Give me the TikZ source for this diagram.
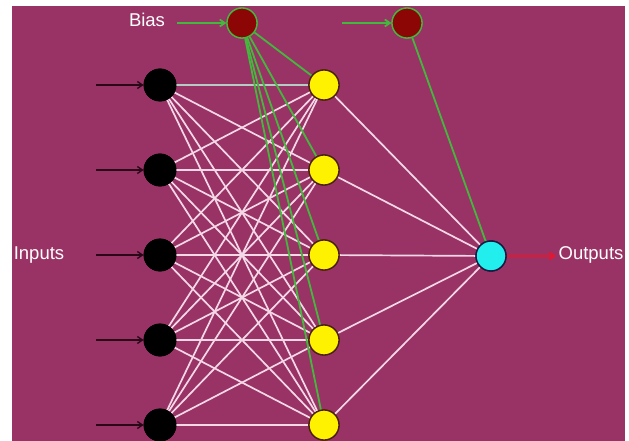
\documentclass[tikz,border=0pt]{standalone}
\usepackage{fontspec}
\setmainfont{Liberation Sans}
\usetikzlibrary{arrows.meta}
\definecolor{bg}{HTML}{993366}
\definecolor{wline}{HTML}{F4D8E8}
\definecolor{gline}{HTML}{44B83C}
\definecolor{grayline}{HTML}{B4CCC4}
\definecolor{biasfill}{HTML}{8C0606}
\definecolor{hidborder}{HTML}{4A2010}
\definecolor{outfill}{HTML}{22EEEE}
\definecolor{outborder}{HTML}{1A1A40}
\definecolor{inarrow}{HTML}{2A0818}
\definecolor{outarrow}{HTML}{E01830}
\tikzset{
  neuron/.style={circle, minimum size=30pt, inner sep=0pt},
  innode/.style={neuron, minimum size=32pt, fill=black, draw=black, line width=0.8pt},
  hidnode/.style={neuron, fill=yellow, draw=hidborder, line width=1.3pt},
  biasnode/.style={neuron, fill=biasfill, draw=gline, line width=1.3pt},
  outnode/.style={neuron, fill=outfill, draw=outborder, line width=1.4pt},
  wconn/.style={draw=wline, line width=1.7pt},
  gconn/.style={draw=gline, line width=1.8pt},
  tip/.style={-{Straight Barb[length=5pt,width=7pt]}},
  lbl/.style={text=white, font=\fontsize{18.5}{20}\selectfont, inner sep=0pt}
}
\begin{document}
\begin{tikzpicture}[x=1pt,y=-1pt]
\useasboundingbox (0,0) rectangle (629,441);
\fill[white] (0,0) rectangle (629,441);
\fill[bg] (12,6) rectangle (625,441);

% nodes
\foreach \k/\y in {1/85,2/170,3/255,4/340,5/425}{
  \node[innode] (i\k) at (160,\y) {};
  \node[hidnode] (h\k) at (324,\y) {};
}
\node[biasnode] (b1) at (242,23) {};
\node[biasnode] (b2) at (407,23) {};
\node[outnode] (o) at (491,256) {};

% input -> hidden
\foreach \a in {1,...,5}{
  \foreach \b in {1,...,5}{
    \ifnum\a=\b\relax\else
      \draw[wconn] (i\a) -- (h\b);
    \fi
  }
}
\foreach \a in {2,...,5}{\draw[wconn] (i\a) -- (h\a);}
\draw[draw=grayline, line width=1.7pt] (i1) -- (h1);
% hidden -> output
\foreach \b in {1,...,5}{\draw[wconn] (h\b) -- (o);}
% bias lines
\foreach \b in {1,...,5}{\draw[gconn] (b1) -- (h\b);}
\draw[gconn] (b2) -- (o);

% redraw nodes on top
\foreach \k/\y in {1/85,2/170,3/255,4/340,5/425}{
  \node[innode] at (i\k) {};
  \node[hidnode] at (h\k) {};
}
\node[biasnode] at (b1) {};
\node[biasnode] at (b2) {};
\node[outnode] at (o) {};

% input arrows
\foreach \k/\y in {1/85,2/170,3/255,4/340,5/425}{
  \coordinate (s\k) at (96,\y);
  \draw[tip, draw=inarrow, line width=1.4pt] (s\k) -- (i\k);
}
% labels
\node[lbl] (tbias) at (147,20) {Bias};
\node[lbl] (tin) at (39,255) {Inputs};
\node[lbl] (tout) at (591,255) {Outputs};
\coordinate (sb1) at (177,23);
\coordinate (sb2) at (342,23);
\draw[tip, gconn] (sb1) -- (b1);
\draw[tip, gconn] (sb2) -- (b2);
\coordinate (eo) at (556,256);
\draw[tip, draw=outarrow, line width=2pt] (o) -- (eo);
\end{tikzpicture}
\end{document}
